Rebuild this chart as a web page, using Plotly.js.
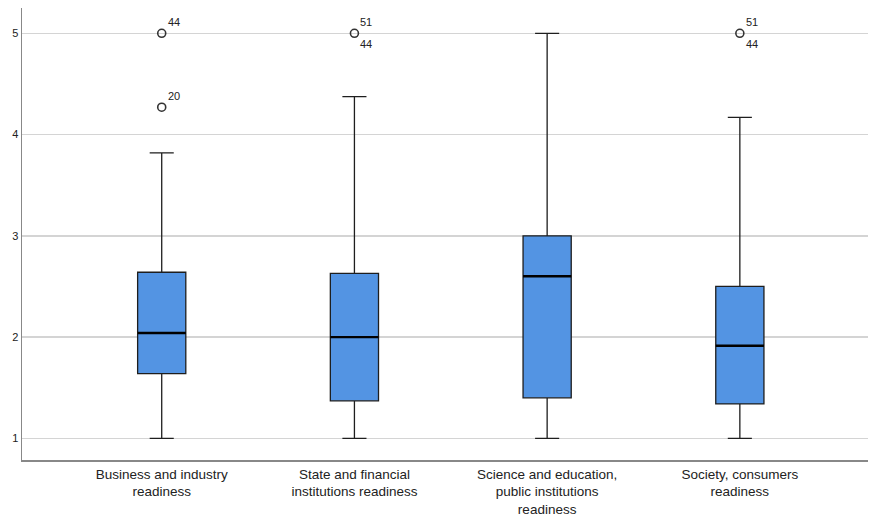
<!DOCTYPE html>
<html>
<head>
<meta charset="utf-8">
<script src="https://cdn.plot.ly/plotly-3.0.1.min.js"></script>
<style>html,body{margin:0;padding:0;background:#fff;}#chart{width:871px;height:518px;}</style>
</head>
<body>
<div id="chart"></div>
<script>
const categories = [
  "Business and industry<br>readiness",
  "State and financial<br>institutions readiness",
  "Science and education,<br>public institutions<br>readiness",
  "Society, consumers<br>readiness"
];
const lowerWhisker = [1.0, 1.0, 1.0, 1.0];
const q1Values = [1.64, 1.37, 1.40, 1.34];
const medianValues = [2.04, 2.0, 2.60, 1.915];
const q3Values = [2.64, 2.63, 3.0, 2.50];
const upperWhisker = [3.82, 4.375, 5.0, 4.17];

// outliers: category index, value, case labels (above / below the point)
const outlierCat = [0, 0, 1, 3];
const outlierValue = [5.0, 4.27, 5.0, 5.0];
const outlierTopLabel = ["44", "20", "51", "51"];
const outlierBottomLabel = ["", "", "44", "44"];

const boxColor = "#5394e3";
const lineColor = "#1e1e1e";
const fontFam = "Liberation Sans, Arial, sans-serif";

const traces = [
  {
    type: "box",
    x: categories,
    q1: q1Values,
    median: medianValues,
    q3: q3Values,
    lowerfence: lowerWhisker,
    upperfence: upperWhisker,
    fillcolor: boxColor,
    line: {color: lineColor, width: 1.3},
    whiskerwidth: 0.5,
    width: 0.25,
    boxpoints: false,
    hoverinfo: "skip",
    showlegend: false
  },
  {
    type: "box",
    x: categories,
    q1: medianValues,
    median: medianValues,
    q3: medianValues,
    lowerfence: medianValues,
    upperfence: medianValues,
    fillcolor: "rgba(0,0,0,0)",
    line: {color: "#000", width: 2.4},
    whiskerwidth: 0,
    width: 0.25,
    boxpoints: false,
    hoverinfo: "skip",
    showlegend: false
  },
  {
    type: "scatter",
    mode: "markers",
    x: outlierCat.map(i => categories[i]),
    y: outlierValue,
    marker: {symbol: "circle-open", size: 8, color: "#333", line: {width: 1.6, color: "#333"}},
    hoverinfo: "skip",
    showlegend: false,
    cliponaxis: false
  }
];

const annotations = [];
outlierCat.forEach((c, i) => {
  if (outlierTopLabel[i]) {
    annotations.push({x: categories[c], y: outlierValue[i], xref: "x", yref: "y",
      text: outlierTopLabel[i], showarrow: false, xanchor: "left", yanchor: "middle",
      xshift: 4, yshift: 11, font: {family: fontFam, size: 11, color: "#222"}});
  }
  if (outlierBottomLabel[i]) {
    annotations.push({x: categories[c], y: outlierValue[i], xref: "x", yref: "y",
      text: outlierBottomLabel[i], showarrow: false, xanchor: "left", yanchor: "middle",
      xshift: 4, yshift: -11, font: {family: fontFam, size: 11, color: "#222"}});
  }
});

const layout = {
  width: 871,
  height: 518,
  margin: {l: 22, r: 3, t: 8, b: 58},
  paper_bgcolor: "#fff",
  plot_bgcolor: "#fff",
  font: {family: fontFam, color: "#222"},
  boxmode: "overlay",
  annotations: annotations,
  xaxis: {
    type: "category",
    range: [-0.725, 3.665],
    showgrid: false,
    zeroline: false,
    showline: true,
    linecolor: "#888",
    linewidth: 1.5,
    ticks: "",
    ticklabelstandoff: 1,
    tickfont: {size: 13.5, color: "#222"},
    automargin: false
  },
  yaxis: {
    range: [0.786, 5.25],
    tickvals: [1, 2, 3, 4, 5],
    showgrid: true,
    gridcolor: "#d4d4d4",
    gridwidth: 1.5,
    zeroline: false,
    showline: true,
    linecolor: "#888",
    linewidth: 1.5,
    ticks: "",
    tickfont: {size: 11, color: "#222"},
    automargin: false
  }
};

Plotly.newPlot("chart", traces, layout, {staticPlot: true, displayModeBar: false});
</script>
</body>
</html>
